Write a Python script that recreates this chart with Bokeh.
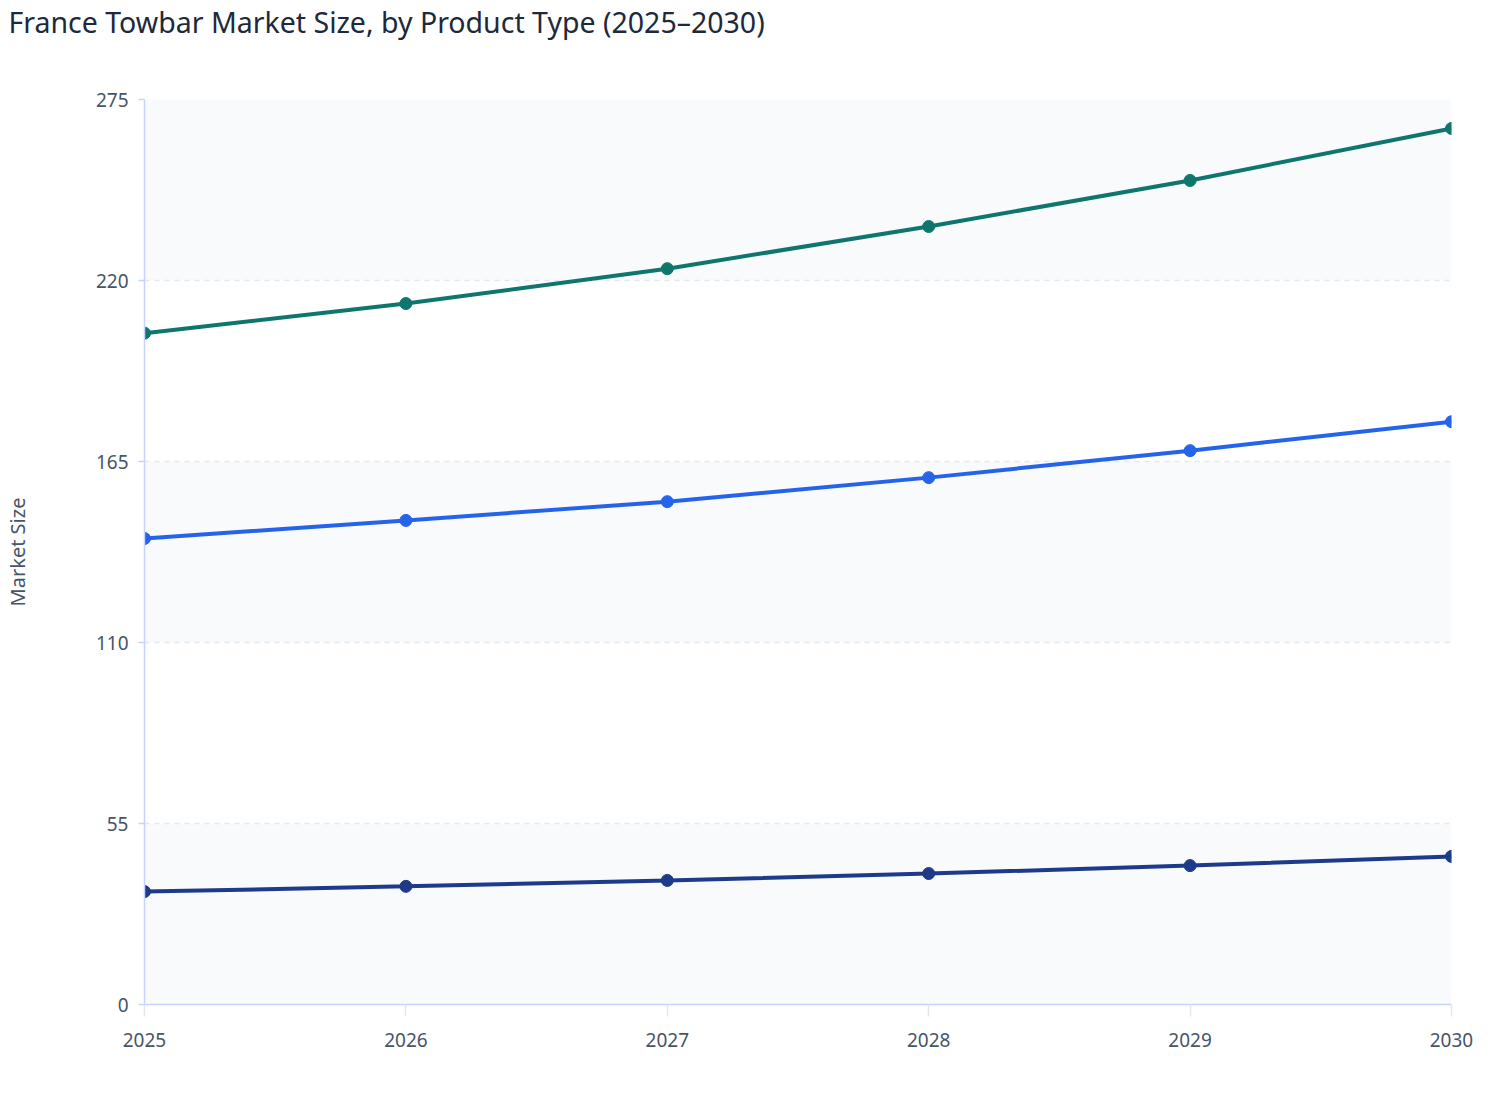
from bokeh.plotting import figure
from bokeh.models import Range1d, FixedTicker, Title
from bokeh.embed import file_html
from bokeh.resources import INLINE

# data
years = [2025, 2026, 2027, 2028, 2029, 2030]
series_top = [204.0, 213.0, 223.6, 236.4, 250.4, 266.2]
series_mid = [141.6, 147.1, 152.8, 160.1, 168.3, 177.1]
series_low = [34.3, 35.9, 37.7, 39.8, 42.2, 45.0]
y_ticks = [0, 55, 110, 165, 220, 275]
title_text = "France Towbar Market Size, by Product Type (2025\u20132030)"

colors = ["#0f766e", "#2563eb", "#1e3a8a"]
font = "Noto Sans"

p = figure(width=1490, height=1064, output_backend="svg", toolbar_location=None,
           x_range=Range1d(2025, 2030), y_range=Range1d(0, 275),
           title=title_text,
           min_border_left=130, min_border_right=39, min_border_top=0, min_border_bottom=60)
p.outline_line_color = None
p.background_fill_color = "white"

p.title.text_font = font
p.title.text_font_size = "28.5px"
p.title.text_font_style = "normal"
p.title.text_color = "#1e293b"
p.title.offset = -136
p.title.standoff = 0

# empty title used as a spacer between the real title and the plot
spacer = Title(text=" ", text_font_size="1px", standoff=56)
p.add_layout(spacer, "above")

# axes
for ax in (p.xaxis[0], p.yaxis[0]):
    ax.axis_line_color = "#c7d2fe"
    ax.axis_line_width = 1.5
    ax.major_tick_line_color = "#c7d2fe"
    ax.major_tick_line_width = 1.5
    ax.minor_tick_line_color = None
    ax.major_label_text_font = font
    ax.major_label_text_font_size = "19px"
    ax.major_label_text_color = "#475569"

p.xaxis.ticker = FixedTicker(ticks=years)
p.xaxis.major_tick_in = 0
p.xaxis.major_tick_out = 12
p.xaxis.major_label_standoff = 16
p.xaxis.major_tick_line_color = "#e2e8f0"

p.yaxis.ticker = FixedTicker(ticks=y_ticks)
p.yaxis.major_tick_in = 0
p.yaxis.major_tick_out = 6
p.yaxis.major_label_standoff = 10
p.yaxis.axis_label = "Market Size"
p.yaxis.axis_label_text_font = font
p.yaxis.axis_label_text_font_size = "20px"
p.yaxis.axis_label_text_font_style = "normal"
p.yaxis.axis_label_text_color = "#475569"
p.yaxis.axis_label_standoff = 62

# grid: the repeated first tick makes the bands start at the bottom
p.xgrid.grid_line_color = None
p.ygrid.ticker = FixedTicker(ticks=[y_ticks[0]] + y_ticks)
p.ygrid.grid_line_color = "#e2e8f0"
p.ygrid.grid_line_dash = "5 5"
p.ygrid.grid_line_width = 1.5
p.ygrid.band_fill_color = "#f8fafc"
p.ygrid.band_fill_alpha = 1.0

for vals, c in zip([series_top, series_mid, series_low], colors):
    p.line(years, vals, line_color=c, line_width=4)
    p.scatter(years, vals, size=12, fill_color=c, line_color=c)

open("out.html", "w").write(file_html(p, INLINE))
